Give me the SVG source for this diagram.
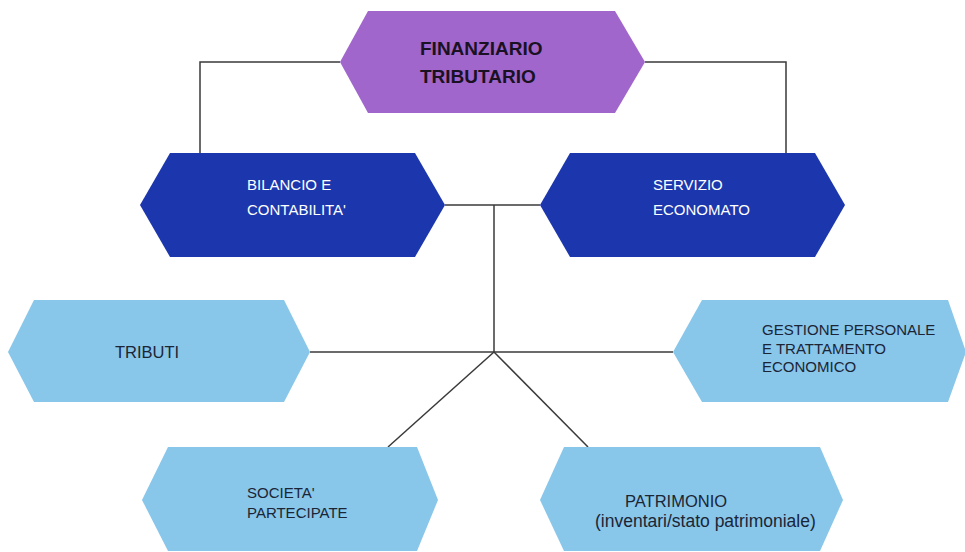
<svg xmlns="http://www.w3.org/2000/svg" width="965" height="552" viewBox="0 0 965 552">
<style>
.conn{fill:none;stroke:#3a3a3a;stroke-width:1.5}
.t{font-family:"Liberation Sans",Arial,sans-serif;font-size:15px}
.top{fill:#a066cc}
.mid{fill:#1c37ad}
.low{fill:#88c6ea}
.wt{fill:#ffffff}
.dk{fill:#1b2535}
</style>
<rect width="965" height="552" fill="#ffffff"/>
<g id="connectors">
<polyline class="conn" points="200,153 200,62 340,62"/>
<polyline class="conn" points="645,62 786,62 786,153"/>
<line class="conn" x1="445" y1="205" x2="540" y2="205"/>
<line class="conn" x1="494" y1="205" x2="494" y2="352"/>
<line class="conn" x1="310" y1="352" x2="673" y2="352"/>
<line class="conn" x1="494" y1="352" x2="388" y2="447"/>
<line class="conn" x1="494" y1="352" x2="588" y2="447"/>
</g>
<g id="finanziario">
<polygon class="top" points="368,11 615,11 645,62 615,113 368,113 340,62"/>
<text class="t" x="420" y="55" style="font-size:19px;font-weight:bold;fill:#1a1222">FINANZIARIO</text>
<text class="t" x="420" y="83" style="font-size:19px;font-weight:bold;fill:#1a1222">TRIBUTARIO</text>
</g>
<g id="bilancio">
<polygon class="mid" points="170,153 415,153 445,205 415,257 170,257 140,205"/>
<text class="t wt" x="247" y="190">BILANCIO E</text>
<text class="t wt" x="247" y="215">CONTABILITA'</text>
</g>
<g id="servizio">
<polygon class="mid" points="570,153 815,153 845,205 815,257 570,257 540,205"/>
<text class="t wt" x="653" y="190">SERVIZIO</text>
<text class="t wt" x="653" y="215">ECONOMATO</text>
</g>
<g id="tributi">
<polygon class="low" points="34,300 284,300 310,352 284,402 34,402 8,352"/>
<text class="t dk" x="115" y="358" style="font-size:16.5px">TRIBUTI</text>
</g>
<g id="gestione">
<polygon class="low" points="702,300 948,300 966,352 948,402 702,402 673,352"/>
<text class="t dk" x="762" y="335">GESTIONE PERSONALE</text>
<text class="t dk" x="762" y="354">E TRATTAMENTO</text>
<text class="t dk" x="762" y="372">ECONOMICO</text>
</g>
<g id="societa">
<polygon class="low" points="168,447 417,447 438,500 417,551 168,551 142,500"/>
<text class="t dk" x="247" y="498">SOCIETA'</text>
<text class="t dk" x="247" y="518">PARTECIPATE</text>
</g>
<g id="patrimonio">
<polygon class="low" points="564,447 820,447 843,500 820,551 564,551 540,500"/>
<text class="t dk" x="625" y="507" style="font-size:16.5px">PATRIMONIO</text>
<text class="t dk" x="595" y="527" style="font-size:17.5px">(inventari/stato patrimoniale)</text>
</g>
</svg>
